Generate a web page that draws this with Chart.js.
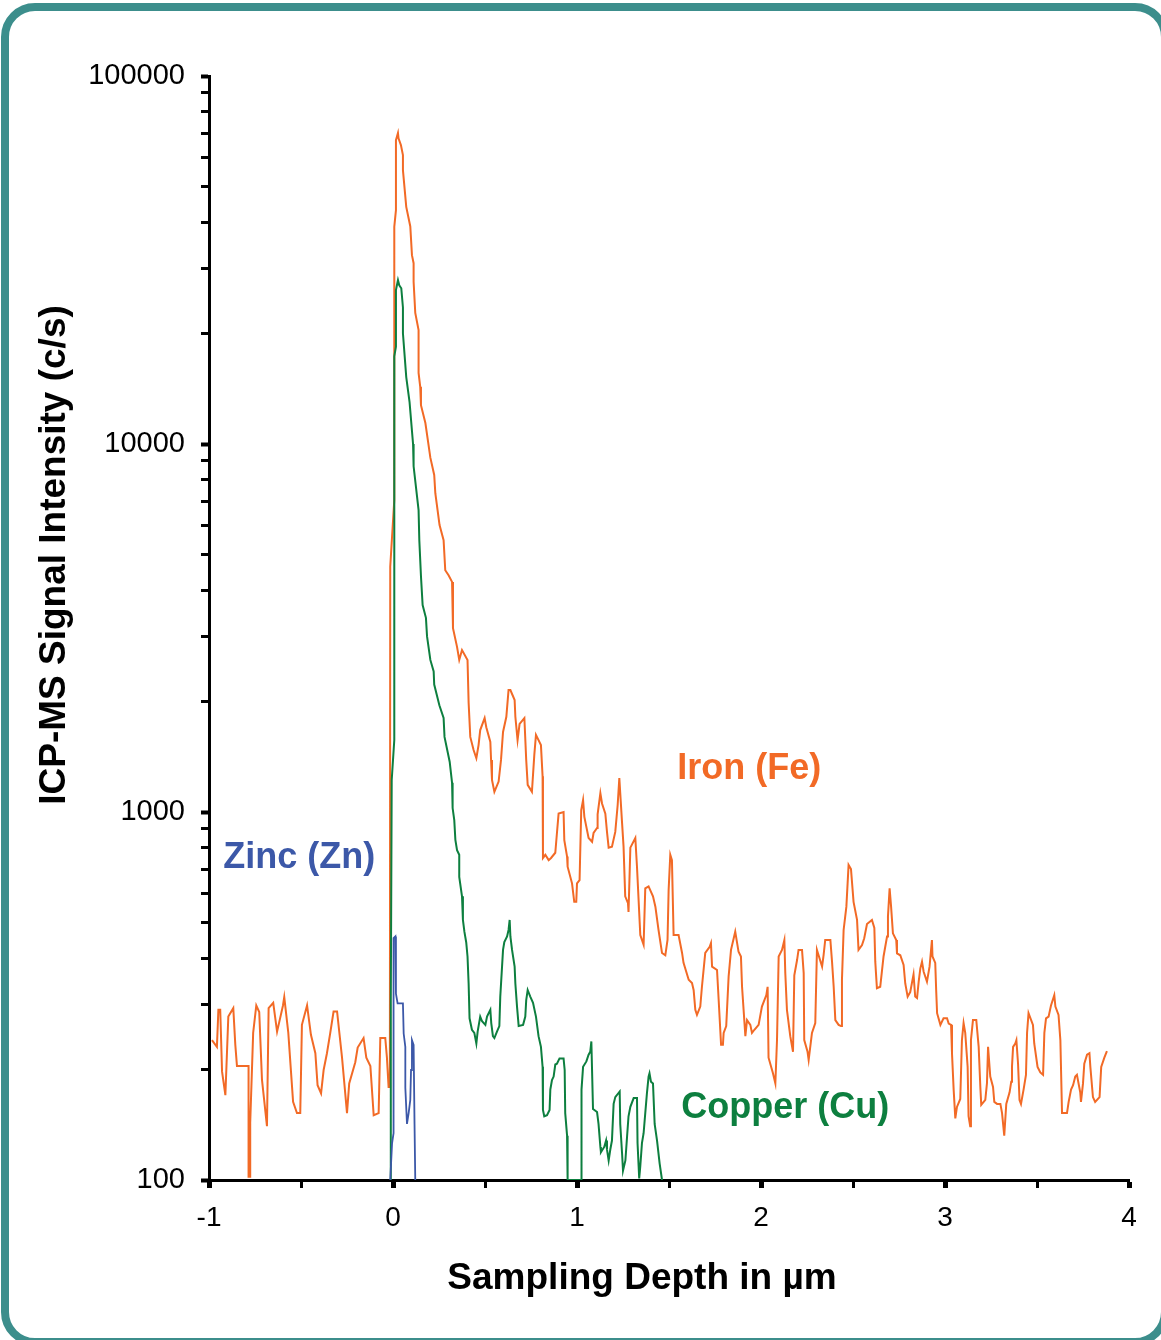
<!DOCTYPE html>
<html>
<head>
<meta charset="utf-8">
<title>ICP-MS depth profile</title>
<script src="https://cdn.jsdelivr.net/npm/chart.js@4.4.1/dist/chart.umd.min.js"></script>
<style>
  html, body { margin: 0; padding: 0; background: #fff; overflow: hidden; }
  #frame {
    position: absolute; left: 1px; top: 3px; width: 1168px; height: 1343px;
    box-sizing: border-box; border: 8px solid #3c8e8c; border-radius: 34px;
  }
  #chart { position: absolute; left: 0; top: 0; }
</style>
</head>
<body>
<div id="frame"></div>
<canvas id="chart" width="1161" height="1340"></canvas>
<script>

// iron (Fe) - depth in um, signal in c/s
const feDepth = [
  -0.984,-0.957,-0.949,-0.939,-0.929,-0.911,-0.895,-0.868,-0.857,-0.848,
  -0.785,-0.785,-0.776,-0.776,-0.760,-0.743,-0.727,-0.712,-0.685,-0.676,
  -0.651,-0.630,-0.618,-0.598,-0.591,-0.569,-0.543,-0.522,-0.504,-0.495,
  -0.467,-0.446,-0.422,-0.410,-0.391,-0.377,-0.359,-0.341,-0.323,-0.304,
  -0.277,-0.250,-0.238,-0.205,-0.192,-0.160,-0.145,-0.123,-0.105,-0.078,
  -0.069,-0.042,-0.033,-0.024,-0.017,-0.015,0.007,0.007,0.016,0.016,
  0.027,0.030,0.043,0.054,0.054,0.072,0.094,0.103,0.112,0.112,
  0.121,0.139,0.139,0.148,0.152,0.176,0.203,0.224,0.230,0.253,
  0.275,0.284,0.302,0.321,0.326,0.348,0.360,0.375,0.405,0.411,
  0.420,0.438,0.453,0.465,0.474,0.498,0.507,0.529,0.533,0.538,
  0.551,0.574,0.587,0.598,0.616,0.628,0.638,0.661,0.665,0.677,
  0.688,0.714,0.724,0.732,0.755,0.768,0.777,0.804,0.813,0.815,
  0.828,0.846,0.859,0.882,0.891,0.900,0.927,0.931,0.946,0.949,
  0.973,0.985,0.996,1.000,1.014,1.023,1.033,1.040,1.063,1.082,
  1.090,1.109,1.112,1.127,1.136,1.154,1.163,1.172,1.190,1.208,
  1.221,1.230,1.245,1.253,1.262,1.277,1.280,1.290,1.317,1.326,
  1.344,1.362,1.371,1.389,1.413,1.426,1.443,1.462,1.480,1.492,
  1.498,1.507,1.516,1.525,1.552,1.571,1.579,1.607,1.625,1.634,
  1.643,1.652,1.670,1.679,1.697,1.721,1.728,1.734,1.761,1.770,
  1.783,1.793,1.797,1.811,1.824,1.837,1.860,1.878,1.891,1.897,
  1.915,1.924,1.942,1.951,1.964,1.987,2.005,2.029,2.036,2.041,
  2.065,2.078,2.087,2.096,2.114,2.127,2.132,2.141,2.159,2.174,
  2.181,2.196,2.204,2.223,2.232,2.235,2.253,2.259,2.277,2.295,
  2.304,2.313,2.332,2.340,2.349,2.377,2.386,2.395,2.404,2.422,
  2.435,2.440,2.449,2.464,2.476,2.489,2.503,2.522,2.530,2.549,
  2.561,2.576,2.603,2.616,2.621,2.630,2.648,2.666,2.685,2.690,
  2.699,2.707,2.717,2.735,2.739,2.757,2.775,2.784,2.797,2.811,
  2.829,2.838,2.848,2.857,2.866,2.875,2.884,2.902,2.916,2.929,
  2.932,2.947,2.952,2.957,2.975,2.992,3.011,3.020,3.033,3.038,
  3.047,3.056,3.065,3.083,3.092,3.101,3.110,3.123,3.128,3.137,
  3.141,3.152,3.170,3.183,3.192,3.197,3.219,3.228,3.234,3.246,
  3.261,3.268,3.283,3.301,3.310,3.322,3.333,3.351,3.360,3.364,
  3.370,3.382,3.388,3.397,3.405,3.413,3.427,3.440,3.446,3.454,
  3.478,3.485,3.503,3.518,3.533,3.540,3.549,3.563,3.576,3.594,
  3.600,3.617,3.627,3.636,3.663,3.672,3.685,3.696,3.708,3.717,
  3.735,3.739,3.750,3.757,3.772,3.785,3.790,3.804,3.816,3.840,
  3.849,3.866,3.880
]
const feSignal = [
  240,230,290,290,197,170,278,293,233,204,
  204,102,102,143,251,298,286,187,140,293,
  303,253,269,298,314,251,163,152,152,264,
  298,248,221,181,172,199,221,251,287,287,
  215,152,183,209,229,243,215,204,150,152,
  243,243,215,179,179,4640,7040,38900,43200,66900,
  70000,67700,64900,61000,55500,44100,39000,32600,31000,27600,
  22700,20400,15600,14300,12750,11400,9180,8240,7350,6020,
  5480,4540,4400,4220,3160,2810,2590,2755,2590,1980,
  1600,1474,1400,1520,1670,1800,1700,1550,1385,1222,
  1135,1210,1385,1650,1815,2145,2145,2015,1815,1569,
  1735,1800,1385,1185,1135,1430,1620,1520,1250,750,
  765,740,750,775,877,990,1000,839,757,710,
  640,570,570,640,653,1012,1078,970,850,830,
  877,905,985,1125,1055,990,883,800,805,883,
  1045,1237,933,805,590,565,535,800,850,710,
  463,436,620,628,590,553,478,414,408,449,
  614,765,740,463,463,414,389,350,343,328,
  290,281,296,335,414,430,440,380,372,308,
  233,233,251,262,357,422,473,417,405,335,
  246,272,264,251,256,264,296,318,335,215,
  195,183,240,405,422,449,365,290,246,223,
  360,396,422,422,365,240,223,212,251,267,
  422,408,380,408,449,449,392,335,272,264,
  262,350,478,553,718,700,570,509,422,435,
  454,496,509,484,392,332,335,405,459,520,
  620,553,468,449,413,408,384,342,315,324,
  362,315,312,346,376,392,368,346,380,449,
  405,389,328,284,264,275,275,266,264,221,
  176,147,158,166,240,267,251,203,149,140,
  240,272,272,230,179,160,165,183,230,191,
  179,163,161,161,152,132,161,173,185,203,
  230,235,240,207,165,161,176,193,251,284,
  264,235,203,196,193,251,275,278,298,318,
  296,281,240,152,152,163,176,181,191,193,
  173,163,183,207,219,221,203,168,163,168,
  203,215,224
]

// copper (Cu)
const cuDepth = [
  -0.015,-0.012,-0.007,0.007,0.007,0.016,0.016,0.027,0.034,0.045,
  0.054,0.054,0.072,0.090,0.109,0.112,0.139,0.143,0.152,0.161,
  0.179,0.185,0.203,0.221,0.224,0.252,0.275,0.280,0.308,0.321,
  0.324,0.333,0.339,0.348,0.360,0.360,0.375,0.380,0.388,0.398,
  0.405,0.411,0.416,0.429,0.442,0.453,0.460,0.474,0.484,0.502,
  0.511,0.529,0.534,0.543,0.551,0.565,0.578,0.583,0.598,0.605,
  0.620,0.628,0.634,0.638,0.647,0.661,0.665,0.674,0.683,0.707,
  0.719,0.724,0.732,0.746,0.761,0.777,0.791,0.804,0.813,0.815,
  0.822,0.837,0.851,0.855,0.864,0.873,0.882,0.891,0.905,0.927,
  0.933,0.936,0.946,0.949,1.022,1.022,1.027,1.033,1.051,1.063,
  1.072,1.078,1.082,1.087,1.109,1.117,1.127,1.130,1.148,1.158,
  1.163,1.172,1.181,1.190,1.199,1.208,1.232,1.235,1.245,1.250,
  1.263,1.272,1.280,1.290,1.308,1.326,1.329,1.338,1.344,1.353,
  1.362,1.371,1.380,1.389,1.394,1.402,1.413,1.422,1.435,1.449,
  1.462
]
const cuSignal = [
  100,308,1222,1569,17300,18400,26200,27900,27000,26500,
  23500,20000,15200,13000,10000,8700,6610,5480,4370,3650,
  3370,3000,2590,2410,2220,1950,1800,1600,1370,1200,
  1025,950,840,788,765,666,590,509,473,442,
  405,342,275,256,251,235,253,278,270,264,
  278,290,267,246,243,253,262,315,422,443,
  459,478,509,459,422,380,342,296,262,264,
  278,308,328,315,303,278,246,230,203,155,
  149,150,155,176,187,191,206,207,214,214,
  199,152,132,100,100,167,176,203,210,219,
  223,238,197,156,153,142,123,119,123,128,
  121,113,121,128,161,168,174,142,118,106,
  113,131,149,158,167,167,126,101,109,126,
  134,152,172,191,195,185,183,142,128,111,
  100
]

// zinc (Zn)
const znDepth = [-0.015,-0.005,0.003,0.003,0.013,0.016,0.016,0.025,0.054,0.058,
  0.067,0.067,0.076,0.085,0.094,0.098,0.103,0.112,0.117,0.121]
const znSignal = [100,126,134,454,459,449,321,302,302,250,
  230,178,142,152,165,199,240,233,142,100]

const seriesNames = ['Iron (Fe)', 'Copper (Cu)', 'Zinc (Zn)']
const seriesColors = ['#f26a26', '#0d7f3f', '#3c58a8']

const xTicks = [-1, -0.5, 0, 0.5, 1, 1.5, 2, 2.5, 3, 3.5, 4]
const yLabelled = [100, 1000, 10000, 100000]
const yTicks = []
for (let d = 100; d < 100000; d *= 10) {
    for (let m = 1; m < 10; m++) yTicks.push(m * d)
}
yTicks.push(100000)

const xTitle = 'Sampling Depth in µm'
const yTitle = 'ICP-MS Signal Intensity (c/s)'

const FONT = '"Liberation Sans", Arial, Helvetica, sans-serif'

function toPoints(xs, ys){
    return xs.map((v, i) => ({x: v, y: ys[i]}))
}

// label anchors: [depth, c/s]
const labelSpots = [[1.545, 1309], [1.567, 157], [-0.922, 750]]

const annotate = {
    id: 'annotate',
    afterDraw(chart){
        const ctx = chart.ctx
        const {x, y} = chart.scales
        ctx.save()
        ctx.textBaseline = 'middle'
        ctx.textAlign = 'left'
        ctx.font = 'bold 36px ' + FONT
        seriesNames.forEach((name, i) => {
            ctx.fillStyle = seriesColors[i]
            ctx.fillText(name, x.getPixelForValue(labelSpots[i][0]), y.getPixelForValue(labelSpots[i][1]))
        })

        ctx.fillStyle = '#000'
        ctx.textAlign = 'center'
        ctx.font = 'bold 37px ' + FONT
        ctx.fillText(xTitle, 642, 1279)
        ctx.translate(55, 555)
        ctx.rotate(-Math.PI / 2)
        ctx.fillText(yTitle, 0, 0)
        ctx.restore()
    }
}

Chart.defaults.font.family = FONT
Chart.defaults.color = '#000'

new Chart(document.getElementById('chart'), {
    type: 'line',
    data: {
        datasets: [
            {label: seriesNames[0], data: toPoints(feDepth, feSignal), borderColor: seriesColors[0], borderWidth: 2, order: 3},
            {label: seriesNames[1], data: toPoints(cuDepth, cuSignal), borderColor: seriesColors[1], borderWidth: 2, order: 2},
            {label: seriesNames[2], data: toPoints(znDepth, znSignal), borderColor: seriesColors[2], borderWidth: 1.8, order: 1}
        ]
    },
    options: {
        responsive: false,
        animation: false,
        devicePixelRatio: 1,
        layout: {padding: {top: 76, right: 32, bottom: 0, left: 0}},
        elements: {point: {radius: 0}, line: {tension: 0}},
        plugins: {legend: {display: false}, tooltip: {enabled: false}},
        scales: {
            x: {
                type: 'linear', min: -1, max: 4,
                afterBuildTicks: s => { s.ticks = xTicks.map(v => ({value: v})) },
                afterFit: s => { s.height = 160 },
                ticks: {
                    autoSkip: false, maxRotation: 0, padding: 13,
                    font: {size: 28},
                    callback: v => Number.isInteger(v) ? String(v) : ''
                },
                grid: {
                    drawOnChartArea: false, tickLength: 8, tickColor: '#000',
                    tickWidth: c => c.tick && Number.isInteger(c.tick.value) ? 5 : 3
                },
                border: {width: 3, color: '#000'}
            },
            y: {
                type: 'logarithmic', min: 100, max: 100000,
                afterBuildTicks: s => { s.ticks = yTicks.map(v => ({value: v})) },
                afterFit: s => { s.width = 209 },
                ticks: {
                    autoSkip: false, padding: 16,
                    font: {size: 29},
                    callback: v => yLabelled.includes(v) ? String(v) : ''
                },
                grid: {
                    drawOnChartArea: false, tickLength: 8, tickColor: '#000',
                    tickWidth: c => c.tick && yLabelled.includes(c.tick.value) ? 4 : 3
                },
                border: {width: 3, color: '#000'}
            }
        }
    },
    plugins: [annotate]
})
</script>
</body>
</html>
